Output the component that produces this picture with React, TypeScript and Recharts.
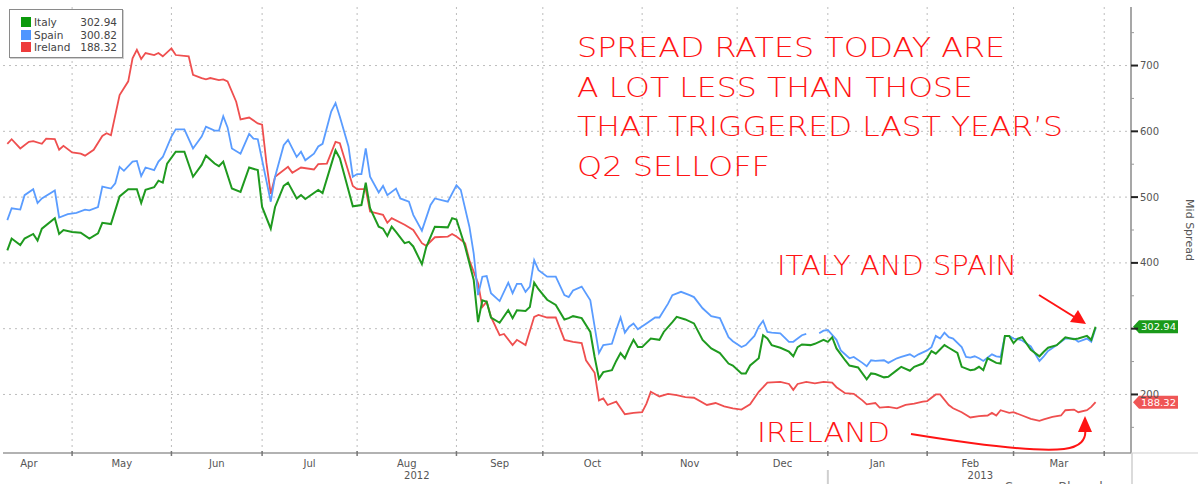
import React from 'react';
import { LineChart, Line, XAxis, YAxis, CartesianGrid, ReferenceDot } from 'recharts';

// x = trading-day index counted from Mon 9 Apr 2012
const italyDays = [1,2,4,5,7,8,9,12,13,14,16,18,20,22,23,25,27,29,31,32,33,35,36,37,38,40,42,44,46,47,49,50,51,53,55,57,59,60,62,63,65,66,68,69,70,73,74,77,78,81,83,84,85,87,88,89,90,91,93,94,95,97,98,100,103,104,105,107,109,110,111,112,113,115,117,118,119,121,122,123,124,126,128,130,131,132,134,136,137,138,139,141,142,143,144,145,146,147,148,150,152,153,155,156,158,160,162,164,166,168,169,171,172,173,175,176,177,178,180,182,183,184,185,187,188,189,190,191,192,193,195,196,198,200,201,202,204,205,207,208,210,211,213,214,215,216,218,219,221,222,224,225,226,227,228,230,231,232,233,234,235,236,238,240,241,242,244,246,248,249,251,252,253];
const italyVals = [419,437,427,437,444,434,452,468,444,450,447,446,437,445,461,459,501,512,512,491,511,515,525,522,551,569,569,531,549,563,551,547,554,513,508,545,541,485,452,485,517,522,498,503,497,511,506,571,559,486,488,522,483,455,452,441,455,447,430,432,425,398,424,455,454,468,466,425,374,310,343,341,317,309,328,316,328,327,333,370,360,344,336,314,316,319,316,295,257,224,234,237,251,263,255,270,283,272,272,285,283,295,310,318,314,308,283,270,263,247,244,232,232,244,255,290,285,275,271,265,258,272,276,275,277,280,283,280,287,270,252,244,241,223,232,231,226,227,237,242,236,242,247,255,266,262,275,271,263,242,237,238,242,237,255,248,247,289,289,278,285,287,268,258,265,271,275,287,284,285,289,283,302.94];

const spainDays = [1,2,4,5,7,8,9,12,13,15,17,19,20,22,23,25,26,27,28,30,31,32,33,35,36,37,39,40,42,44,46,47,49,50,51,52,53,55,57,58,59,62,63,65,66,68,69,70,72,73,74,76,77,78,80,81,82,83,84,85,87,88,89,91,92,94,95,97,99,100,103,105,106,108,109,110,111,112,113,115,117,118,119,120,121,122,123,124,126,128,130,131,132,134,136,137,138,139,141,142,143,144,145,146,147,149,151,152,154,155,157,159,160,162,164,166,168,169,171,172,174,175,176,177,178,180,182,183,184,185,186,187,189,190,191,193,194,196,197,199,200,201,202,204,205,207,208,210,211,212,214,215,216,217,218,219,220,222,223,224,225,226,227,229,230,231,232,233,234,235,236,238,240,241,242,244,246,248,249,251,252,253];
const spainVals = [465,483,481,503,512,491,498,510,469,474,476,481,480,485,516,513,521,546,540,554,555,532,545,541,554,561,592,603,603,574,592,607,601,601,623,606,574,566,596,589,588,493,531,579,587,561,569,556,566,577,581,630,643,622,577,531,535,535,574,531,507,517,503,513,498,493,473,449,488,498,493,518,511,455,414,351,379,380,354,342,370,354,368,368,356,364,404,389,379,379,351,348,358,364,343,303,263,275,277,298,317,294,303,308,299,308,317,317,338,351,356,351,348,331,319,316,287,281,272,275,289,303,312,295,294,293,280,280,285,290,292,null,293,297,298,283,267,255,257,248,243,252,251,252,248,255,257,261,257,261,267,272,289,285,294,287,285,272,257,256,258,255,251,261,258,257,289,289,285,284,282,273,251,258,266,275,285,285,280,285,280,300.82];

const irelandDays = [1,2,4,6,7,9,10,12,13,14,16,18,19,21,23,24,25,27,29,30,31,32,33,35,36,37,39,40,43,44,46,47,48,50,51,52,54,55,57,59,60,61,62,63,66,67,69,72,73,75,77,78,81,82,84,85,88,89,90,93,95,97,98,100,103,104,105,107,108,110,111,112,113,115,116,118,119,121,123,124,126,128,130,132,134,135,137,138,139,140,142,144,146,148,149,150,152,154,156,158,160,163,165,167,169,171,173,175,177,180,182,183,184,186,188,190,192,193,195,197,199,200,202,203,205,207,209,211,213,214,216,217,219,220,222,224,226,228,229,230,231,233,234,236,238,240,241,243,245,246,248,249,251,252,253];
const irelandVals = [581,588,574,584,585,581,589,588,572,578,568,566,563,572,593,597,594,655,676,711,724,710,719,716,719,714,726,716,714,686,681,679,681,678,679,676,645,618,621,612,610,552,505,531,546,537,545,542,550,551,584,582,517,512,512,478,473,461,468,458,450,430,426,439,440,444,440,430,404,369,333,341,318,290,292,275,283,275,318,321,317,317,283,280,278,252,233,191,194,184,189,170,172,173,186,204,197,201,199,196,195,184,187,182,179,177,185,204,218,219,216,207,216,219,217,219,218,211,202,201,191,185,187,180,181,179,184,186,189,190,200,200,184,179,173,165,167,168,172,168,176,172,173,168,163,160,162,166,168,176,177,173,176,181,188.32];

const seriesNames = ['Italy', 'Spain', 'Ireland'];
const seriesColors = ['#1f9a1f', '#5a9cff', '#ef4f4f'];
const legendColors = ['#0c9a0c', '#4f96ff', '#ee3c3c'];
const tagColors = ['#1a9a1a', '#ef5656'];

const monthStarts = [16, 39, 60, 82, 105, 125, 148, 170, 191, 214, 234, 255];
const monthLabels = ['Apr', 'May', 'Jun', 'Jul', 'Aug', 'Sep', 'Oct', 'Nov', 'Dec', 'Jan', 'Feb', 'Mar'];
const monthMids = [6, 27.5, 49.5, 71, 93.5, 115, 136.5, 159, 180.5, 202.5, 224, 244.5];
const yearMonths = ['Aug', 'Feb'];
const yearLabels = ['2012', '2013'];
const yearBoundary = 191;
const yMajor = [200, 300, 400, 500, 600, 700];
const yMinor = [150, 250, 350, 450, 550, 650, 750];
const X_DOMAIN: [number, number] = [0, 261.2];
const Y_DOMAIN: [number, number] = [111, 789];

const annotationLines = ['SPREAD RATES TODAY ARE', 'A LOT LESS THAN THOSE', "THAT TRIGGERED LAST YEAR\u2019S", 'Q2 SELLOFF'];

const toData = (days: number[], vals: (number | null)[]) => days.map((t, i) => ({ t, v: vals[i] }));
const italyData = toData(italyDays, italyVals);
const spainData = toData(spainDays, spainVals);
const irelandData = toData(irelandDays, irelandVals);
const lastVals = [italyVals[italyVals.length - 1], spainVals[spainVals.length - 1], irelandVals[irelandVals.length - 1]] as number[];

const AXIS_FONT = '"DejaVu Sans", sans-serif';

const xTicks = [...monthStarts, ...monthMids].sort((a, b) => a - b);
const yTicks = [...yMajor, ...yMinor].sort((a, b) => a - b);

const XTick = (props: any) => {
  const { x, y, payload } = props;
  const v = payload.value;
  const si = monthStarts.indexOf(v);
  const mi = monthMids.indexOf(v);
  const label = mi >= 0 ? monthLabels[mi] : null;
  const yi = label ? yearMonths.indexOf(label) : -1;
  return (
    <g>
      {si >= 0 && <line x1={x} x2={x} y1={y - 2} y2={y + 3} stroke="#777" strokeWidth={1.5} />}
      {v === yearBoundary && <line x1={x} x2={x} y1={y + 17} y2={y + 32} stroke="#cfcfcf" strokeWidth={2} />}
      {label && (
        <text x={x} y={y + 14} textAnchor="middle" fontSize={10} fill="#555" fontFamily={AXIS_FONT}>{label}</text>
      )}
      {yi >= 0 && (
        <text x={x + 10} y={y + 26} textAnchor="middle" fontSize={10} fill="#555" fontFamily={AXIS_FONT}>{yearLabels[yi]}</text>
      )}
    </g>
  );
};

const YTick = (props: any) => {
  const { x, y, payload } = props;
  const v = payload.value;
  const major = yMajor.includes(v);
  const hidden = Math.abs(v - lastVals[0]) < 8;
  return (
    <g>
      {major ? (
        <line x1={x} x2={x + 7} y1={y} y2={y} stroke="#222" strokeWidth={2} />
      ) : (
        <line x1={x} x2={x + 3} y1={y} y2={y} stroke="#999" strokeWidth={1} />
      )}
      {major && !hidden && (
        <text x={x + 9} y={y + 3.5} fontSize={10} fill="#555" fontFamily={AXIS_FONT}>{v}</text>
      )}
    </g>
  );
};

const tagShape = (color: string, text: string) => (props: any) => {
  const { cx, cy } = props;
  const l = cx + 2;
  const pts = `${l},${cy} ${l + 6},${cy - 6.5} ${l + 45},${cy - 6.5} ${l + 45},${cy + 6.5} ${l + 6},${cy + 6.5}`;
  return (
    <g>
      <polygon points={pts} fill={color} />
      <text x={l + 8} y={cy + 3.5} fontSize={9.5} fill="#fff" fontFamily={AXIS_FONT} textLength={35} lengthAdjust="spacingAndGlyphs">{text}</text>
    </g>
  );
};

const MidSpreadLabel = (props: any) => {
  const vb = props.viewBox || {};
  const cx = vb.x + vb.width - 12;
  const cy = vb.y + vb.height / 2;
  return (
    <text x={cx} y={cy} textAnchor="middle" transform={`rotate(90 ${cx} ${cy})`} fontSize={11} fill="#555" fontFamily={AXIS_FONT}>Mid Spread</text>
  );
};

export default function App() {
  const red = '#ff1414';
  const annFont = '"DejaVu Sans", sans-serif';
  return (
    <div style={{ position: 'absolute', left: 0, top: 0, width: 1198, height: 484, background: '#fff', overflow: 'hidden' }}>
      <LineChart width={1198} height={484} margin={{ top: 7, right: 0, bottom: 0, left: 3 }}>
        <CartesianGrid
          stroke="#bdbdbd"
          strokeDasharray="2 4"
          horizontalValues={yMajor}
          verticalValues={monthStarts}
        />
        <XAxis
          dataKey="t"
          type="number"
          domain={X_DOMAIN}
          allowDataOverflow
          ticks={xTicks}
          interval={0}
          tick={<XTick />}
          tickLine={false}
          tickSize={0}
          tickMargin={0}
          height={31}
          axisLine={{ stroke: '#999', strokeWidth: 1.5 }}
        />
        <YAxis
          orientation="right"
          type="number"
          domain={Y_DOMAIN}
          allowDataOverflow
          ticks={yTicks}
          interval={0}
          tick={<YTick />}
          tickLine={false}
          tickSize={0}
          tickMargin={0}
          width={67}
          axisLine={{ stroke: '#8a8a8a', strokeWidth: 1.5 }}
          label={<MidSpreadLabel />}
        />
        <Line data={irelandData} dataKey="v" name={seriesNames[2]} stroke={seriesColors[2]} strokeWidth={1.8} dot={false} isAnimationActive={false} type="linear" />
        <Line data={spainData} dataKey="v" name={seriesNames[1]} stroke={seriesColors[1]} strokeWidth={1.8} dot={false} isAnimationActive={false} type="linear" connectNulls={false} />
        <Line data={italyData} dataKey="v" name={seriesNames[0]} stroke={seriesColors[0]} strokeWidth={2} dot={false} isAnimationActive={false} type="linear" />
        <ReferenceDot x={X_DOMAIN[1]} y={lastVals[0]} r={0} ifOverflow="visible" shape={tagShape(tagColors[0], lastVals[0].toFixed(2))} />
        <ReferenceDot x={X_DOMAIN[1]} y={lastVals[2]} r={0} ifOverflow="visible" shape={tagShape(tagColors[1], lastVals[2].toFixed(2))} />
      </LineChart>

      {/* legend */}
      <div style={{ position: 'absolute', left: 9, top: 9, width: 112, height: 47, border: '1px solid #8a8a8a', boxShadow: '1px 1px 0 #d0d0d0', background: '#fff', fontFamily: AXIS_FONT, fontSize: 10.5, color: '#444' }}>
        {seriesNames.map((n, i) => (
          <div key={n} style={{ position: 'absolute', left: 11, top: 6 + i * 12.5, width: 96, height: 12, lineHeight: '12px' }}>
            <span style={{ position: 'absolute', left: 0, top: 1, width: 10, height: 10, background: legendColors[i] }} />
            <span style={{ position: 'absolute', left: 13 }}>{n}</span>
            <span style={{ position: 'absolute', right: 0 }}>{lastVals[i].toFixed(2)}</span>
          </div>
        ))}
      </div>

      {/* annotations */}
      <svg width={1198} height={484} style={{ position: 'absolute', left: 0, top: 0, pointerEvents: 'none' }}>
        <line x1={1131} x2={1198} y1={453} y2={453} stroke="#cfcfcf" strokeWidth={1} />
        <line x1={1132} x2={1132} y1={453} y2={484} stroke="#cfcfcf" strokeWidth={1.5} />
        {annotationLines.map((t, i) => (
          <text key={t} x={577} y={57 + i * 39.5} fontSize={27} fill={red} fontFamily={annFont} fontWeight={200}
            textLength={[428, 396, 486, 193][i]} lengthAdjust="spacingAndGlyphs">{t}</text>
        ))}
        <text x={777} y={275} fontSize={27} fill={red} fontFamily={annFont} fontWeight={200} textLength={240} lengthAdjust="spacingAndGlyphs">ITALY AND SPAIN</text>
        <text x={757} y={442} fontSize={27} fill={red} fontFamily={annFont} fontWeight={200} textLength={133} lengthAdjust="spacingAndGlyphs">IRELAND</text>
        <line x1={1039} y1={295} x2={1076} y2={318} stroke={red} strokeWidth={2} />
        <polygon points="1086,324 1070,322 1078,310" fill={red} />
        <path d="M 911 434 C 985 446, 1040 452, 1064 449 C 1080 447, 1087 440, 1085 428" stroke={red} strokeWidth={2} fill="none" />
        <polygon points="1085,416 1078,432 1092,432" fill={red} />
        <text x={1005} y={491} fontSize={13} fill="#666" fontFamily={AXIS_FONT}>Source: Bloomberg</text>
      </svg>
    </div>
  );
}
